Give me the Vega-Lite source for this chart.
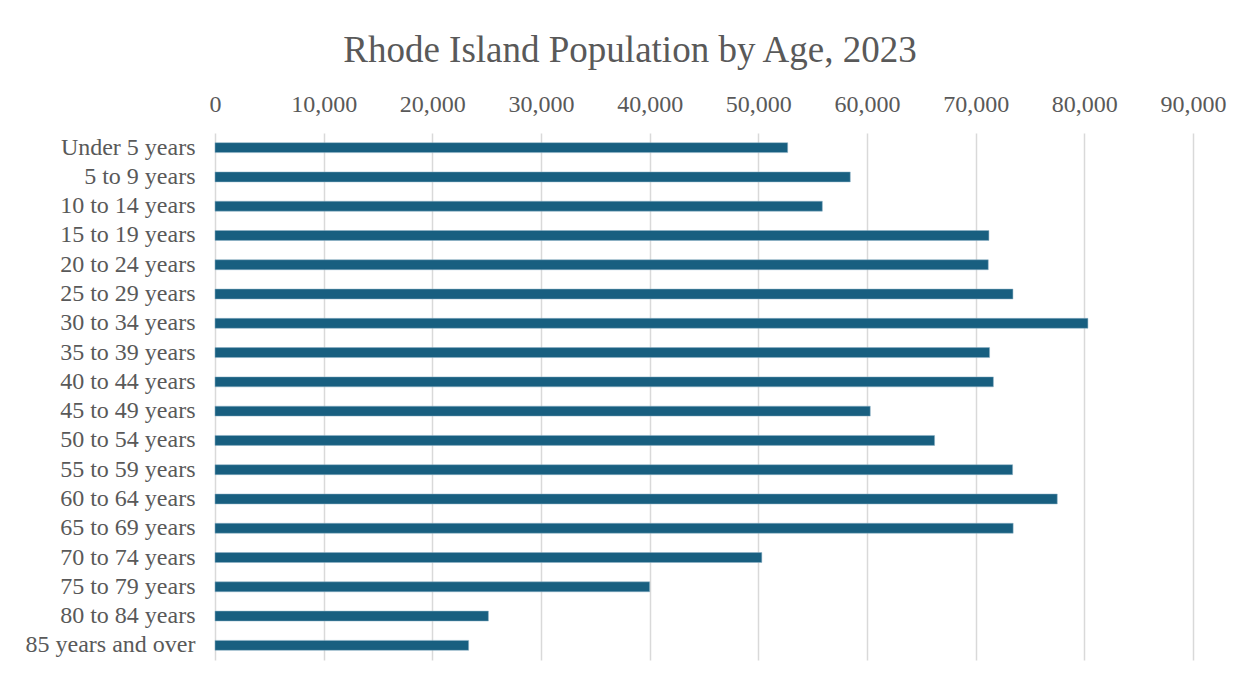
{
  "$schema": "https://vega.github.io/schema/vega-lite/v6.json",
  "width": 978,
  "height": 527,
  "autosize": {"type": "none"},
  "padding": {"left": 215, "top": 133, "right": 59, "bottom": 25},
  "background": "white",
  "title": {
    "text": "Rhode Island Population by Age, 2023",
    "anchor": "middle",
    "dx": -74,
    "offset": 22,
    "font": "Liberation Serif",
    "fontSize": 37,
    "fontWeight": "normal",
    "color": "#595959"
  },
  "data": {
    "values": [
      {"age": "Under 5 years", "population": 52700},
      {"age": "5 to 9 years", "population": 58460},
      {"age": "10 to 14 years", "population": 55890},
      {"age": "15 to 19 years", "population": 71220},
      {"age": "20 to 24 years", "population": 71160},
      {"age": "25 to 29 years", "population": 73430},
      {"age": "30 to 34 years", "population": 80330},
      {"age": "35 to 39 years", "population": 71280},
      {"age": "40 to 44 years", "population": 71630},
      {"age": "45 to 49 years", "population": 60300},
      {"age": "50 to 54 years", "population": 66220},
      {"age": "55 to 59 years", "population": 73400},
      {"age": "60 to 64 years", "population": 77510},
      {"age": "65 to 69 years", "population": 73450},
      {"age": "70 to 74 years", "population": 50320},
      {"age": "75 to 79 years", "population": 40000},
      {"age": "80 to 84 years", "population": 25160},
      {"age": "85 years and over", "population": 23340}
    ]
  },
  "mark": {"type": "bar", "color": "#185F80", "stroke": "#8FB3C6", "strokeWidth": 0.5},
  "encoding": {
    "y": {
      "field": "age",
      "type": "nominal",
      "sort": null,
      "scale": {"paddingInner": 0.66, "paddingOuter": 0.33},
      "axis": {
        "title": null,
        "domain": false,
        "ticks": false,
        "labelFont": "Liberation Serif",
        "labelFontSize": 24,
        "labelColor": "#595959",
        "labelPadding": 20,
        "labelLimit": 400
      }
    },
    "x": {
      "field": "population",
      "type": "quantitative",
      "scale": {"domain": [0, 90000], "nice": false},
      "axis": {
        "orient": "top",
        "title": null,
        "domain": false,
        "ticks": false,
        "values": [0, 10000, 20000, 30000, 40000, 50000, 60000, 70000, 80000, 90000],
        "format": ",d",
        "labelFont": "Liberation Serif",
        "labelFontSize": 24,
        "labelColor": "#595959",
        "labelPadding": 17,
        "labelFlush": false,
        "grid": true,
        "gridColor": "#D9D9D9",
        "gridWidth": 1.5
      }
    }
  },
  "config": {"view": {"stroke": null}}
}
